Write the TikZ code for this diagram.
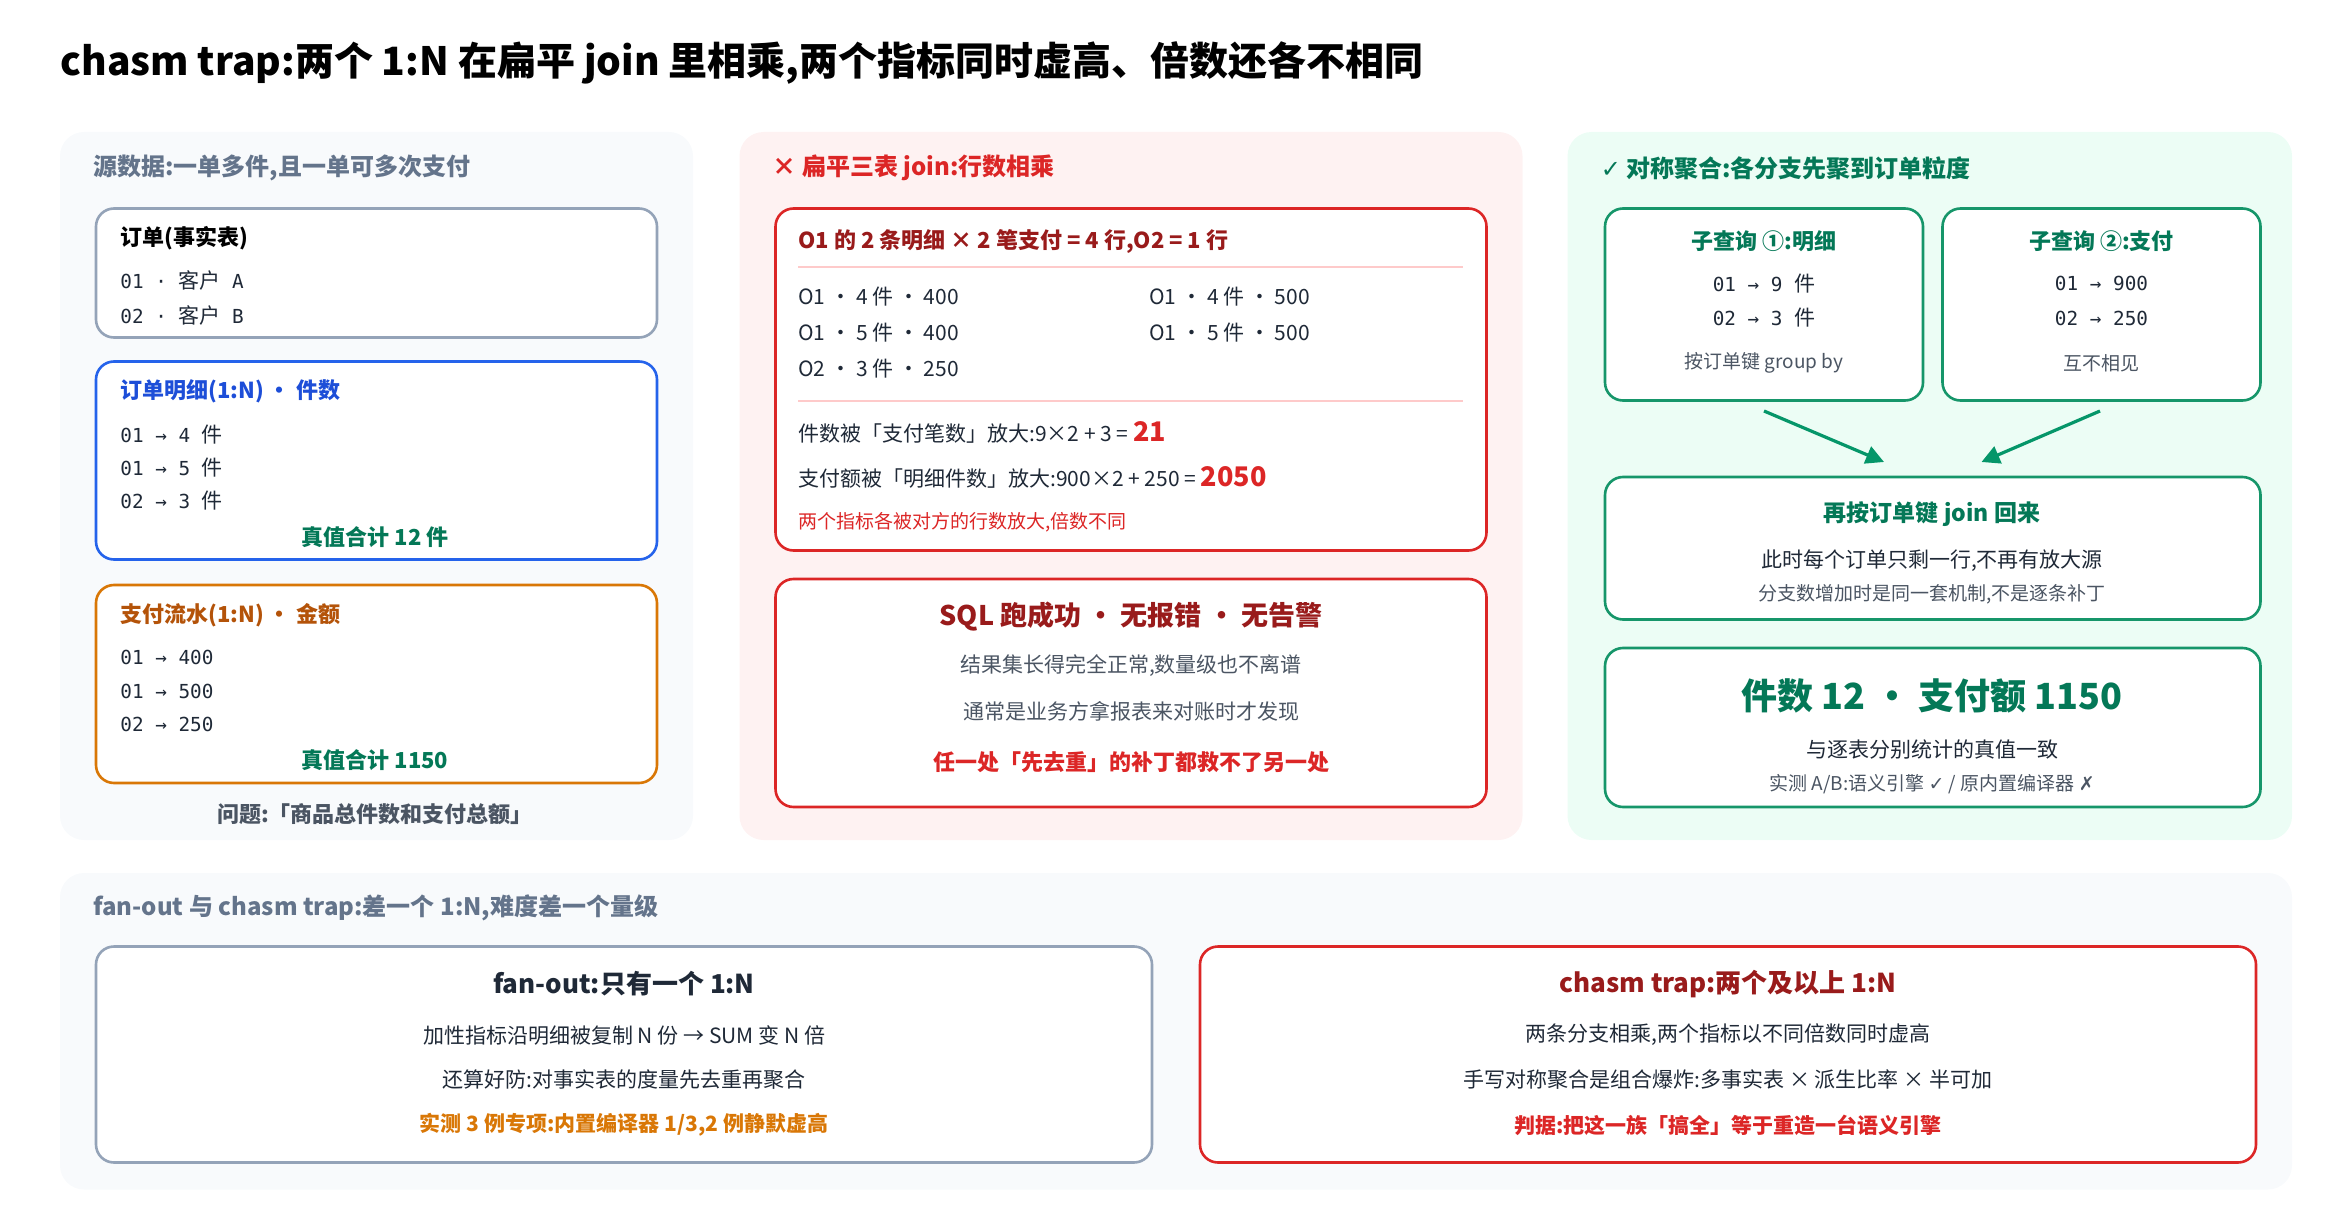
\documentclass[tikz,border=0pt]{standalone}
\usepackage{fontspec}
\setmainfont{Noto Sans CJK SC}
\newfontfamily\symf{DejaVu Sans}
\newfontfamily\mono{DejaVu Sans Mono}[Scale=0.92]
\usetikzlibrary{positioning,arrows.meta}
\definecolor{slate}{HTML}{64748B}
\definecolor{bordgray}{HTML}{94A3B8}
\definecolor{ink}{HTML}{1F2937}
\definecolor{txtgray}{HTML}{4B5563}
\definecolor{blueB}{HTML}{2563EB}
\definecolor{blueT}{HTML}{1D4ED8}
\definecolor{orangeB}{HTML}{D97706}
\definecolor{orangeT}{HTML}{B45309}
\definecolor{redB}{HTML}{DC2626}
\definecolor{redD}{HTML}{991B1B}
\definecolor{pinkL}{HTML}{FECACA}
\definecolor{greenB}{HTML}{16966A}
\definecolor{greenT}{HTML}{047857}
\definecolor{greenA}{HTML}{059669}
\definecolor{bgGray}{HTML}{F8FAFC}
\definecolor{bgRed}{HTML}{FEF2F2}
\definecolor{bgGreen}{HTML}{ECFDF5}
\begin{document}
\begin{tikzpicture}[
  x=0.75pt, y=-0.75pt,
  > = {Triangle[length=9pt,width=9pt]},
  panel/.style = {rounded corners=12pt, draw=none},
  card/.style = {rounded corners=9pt, line width=1.3pt, fill=white},
  txt/.style = {inner sep=0pt, font=\fontsize{10.5}{12}\selectfont, text=ink},
  head/.style = {inner sep=0pt, anchor=west, font=\fontsize{12}{14}\selectfont\bfseries},
  ttl/.style = {inner sep=0pt, font=\fontsize{11}{13}\selectfont\bfseries},
  lft/.style = {txt, anchor=west},
  flow/.style = {->, line width=1.6pt, draw=greenA, fill=greenA}
  ]
  \useasboundingbox (0,0) rectangle (1560,820);
  \node[inner sep=0pt, anchor=west, font=\fontsize{19.5}{22}\selectfont\bfseries] (title) at (40,42)
    {chasm trap:两个 1:N 在扁平 join 里相乘,两个指标同时虚高、倍数还各不相同};

  % panels
  \fill[panel, bgGray] (40,88) rectangle (462,560);
  \fill[panel, bgRed] (493,88) rectangle (1015,560);
  \fill[panel, bgGreen] (1045,88) rectangle (1528,560);
  \fill[panel, bgGray] (40,582) rectangle (1528,793);

  % source data
  \node[head, text=slate] (srcH) at (62,112) {源数据:一单多件,且一单可多次支付};
  \draw[card, draw=bordgray] (64,139) rectangle (438,225);
  \node[ttl, anchor=west] (ordT) at (80,159) {订单(事实表)};
  \node[lft] (ord1) at (80,187) {{\mono 01 · }客户{\mono{} A}};
  \node[lft] (ord2) at (80,210) {{\mono 02 · }客户{\mono{} B}};

  \draw[card, draw=blueB] (64,241) rectangle (438,373);
  \node[ttl, anchor=west, text=blueT] (detT) at (80,261) {订单明细(1:N) · 件数};
  \node[lft] (det1) at (80,290) {{\mono 01 → 4 }件};
  \node[lft] (det2) at (80,312) {{\mono 01 → 5 }件};
  \node[lft] (det3) at (80,334) {{\mono 02 → 3 }件};
  \node[ttl, text=greenT] (detS) at (250,358) {真值合计 12 件};

  \draw[card, draw=orangeB] (64,390) rectangle (438,522);
  \node[ttl, anchor=west, text=orangeT] (payT) at (80,410) {支付流水(1:N) · 金额};
  \node[lft] (pay1) at (80,438) {\mono 01 → 400};
  \node[lft] (pay2) at (80,461) {\mono 01 → 500};
  \node[lft] (pay3) at (80,483) {\mono 02 → 250};
  \node[ttl, text=greenT] (payS) at (250,507) {真值合计 1150};
  \node[ttl, text=txtgray] (ask) at (250,543) {问题:「商品总件数和支付总额」};

  % flat join
  \node[head, text=redB] (flatH) at (515,112) {× 扁平三表 join:行数相乘};
  \draw[card, draw=redB] (517,139) rectangle (991,367);
  \node[ttl, anchor=west, text=redD] (rowsT) at (532,161) {O1 的 2 条明细 × 2 笔支付 = 4 行,O2 = 1 行};
  \draw[pinkL, line width=1pt] (532,178) -- (975,178);
  \node[lft] (r1) at (532,198) {O1 · 4 件 · 400};
  \node[lft] (r2) at (532,222) {O1 · 5 件 · 400};
  \node[lft] (r3) at (532,246) {O2 · 3 件 · 250};
  \node[lft] (r4) at (766,198) {O1 · 4 件 · 500};
  \node[lft] (r5) at (766,222) {O1 · 5 件 · 500};
  \draw[pinkL, line width=1pt] (532,267) -- (975,267);
  \node[lft] (m1) at (532,288) {件数被「支付笔数」放大:9×2 + 3 = {\fontsize{13.5}{15}\selectfont\bfseries\color{redB}21}};
  \node[lft] (m2) at (532,318) {支付额被「明细件数」放大:900×2 + 250 = {\fontsize{13.5}{15}\selectfont\bfseries\color{redB}2050}};
  \node[lft, text=redB, font=\fontsize{9.5}{11}\selectfont] (m3) at (532,348) {两个指标各被对方的行数放大,倍数不同};

  \draw[card, draw=redB] (517,386) rectangle (991,538);
  \node[txt, text=redD, font=\fontsize{13.5}{15}\selectfont\bfseries] (sqlT) at (754,411) {SQL 跑成功 · 无报错 · 无告警};
  \node[txt, text=txtgray] (sql1) at (754,444) {结果集长得完全正常,数量级也不离谱};
  \node[txt, text=txtgray] (sql2) at (754,474) {通常是业务方拿报表来对账时才发现};
  \node[ttl, text=redB] (sql3) at (754,508) {任一处「先去重」的补丁都救不了另一处};

  % symmetric aggregation
  \node[head, text=greenT] (symH) at (1067,112) {{\symf ✓} 对称聚合:各分支先聚到订单粒度};
  \draw[card, draw=greenB] (1070,139) rectangle (1282,267);
  \node[ttl, text=greenT] (q1T) at (1176,161) {子查询 ①:明细};
  \node[txt] (q1a) at (1176,189) {{\mono 01 → 9 }件};
  \node[txt] (q1b) at (1176,212) {{\mono 02 → 3 }件};
  \node[txt, text=txtgray, font=\fontsize{9.5}{11}\selectfont] (q1c) at (1176,242) {按订单键 group by};
  \draw[card, draw=greenB] (1295,139) rectangle (1507,267);
  \node[ttl, text=greenT] (q2T) at (1401,161) {子查询 ②:支付};
  \node[txt] (q2a) at (1401,189) {\mono 01 → 900};
  \node[txt] (q2b) at (1401,212) {\mono 02 → 250};
  \node[txt, text=txtgray, font=\fontsize{9.5}{11}\selectfont] (q2c) at (1401,242) {互不相见};

  \coordinate (q1o) at (1176,274);
  \coordinate (q2o) at (1400,274);
  \coordinate (j1) at (1256,308);
  \coordinate (j2) at (1321,308);
  \draw[flow] (q1o) -- (j1);
  \draw[flow] (q2o) -- (j2);

  \draw[card, draw=greenB] (1070,318) rectangle (1507,413);
  \node[txt, text=greenT, font=\fontsize{11.5}{13}\selectfont\bfseries] (joinT) at (1288,343) {再按订单键 join 回来};
  \node[txt] (join1) at (1288,374) {此时每个订单只剩一行,不再有放大源};
  \node[txt, text=txtgray, font=\fontsize{9.5}{11}\selectfont] (join2) at (1288,396) {分支数增加时是同一套机制,不是逐条补丁};

  \draw[card, draw=greenB] (1070,432) rectangle (1507,538);
  \node[txt, text=greenT, font=\fontsize{18}{20}\selectfont\bfseries] (resT) at (1288,464) {件数 12 · 支付额 1150};
  \node[txt] (res1) at (1288,500) {与逐表分别统计的真值一致};
  \node[txt, text=txtgray, font=\fontsize{9.5}{11}\selectfont] (res2) at (1288,523) {实测 A/B:语义引擎 {\symf ✓} / 原内置编译器 {\symf ✗}};

  % comparison
  \node[head, text=slate] (cmpH) at (62,605) {fan-out 与 chasm trap:差一个 1:N,难度差一个量级};
  \draw[card, draw=bordgray] (64,631) rectangle (768,775);
  \node[txt, font=\fontsize{13}{15}\selectfont\bfseries] (fanT) at (416,656) {fan-out:只有一个 1:N};
  \node[txt] (fan1) at (416,690) {加性指标沿明细被复制 N 份 → SUM 变 N 倍};
  \node[txt] (fan2) at (416,720) {还算好防:对事实表的度量先去重再聚合};
  \node[ttl, text=orangeB, font=\fontsize{10.5}{12}\selectfont\bfseries] (fan3) at (416,750) {实测 3 例专项:内置编译器 1/3,2 例静默虚高};
  \draw[card, draw=redB] (800,631) rectangle (1504,775);
  \node[txt, text=redD, font=\fontsize{13}{15}\selectfont\bfseries] (chT) at (1152,656) {chasm trap:两个及以上 1:N};
  \node[txt] (ch1) at (1152,690) {两条分支相乘,两个指标以不同倍数同时虚高};
  \node[txt] (ch2) at (1152,720) {手写对称聚合是组合爆炸:多事实表 × 派生比率 × 半可加};
  \node[ttl, text=redB, font=\fontsize{10.5}{12}\selectfont\bfseries] (ch3) at (1152,750) {判据:把这一族「搞全」等于重造一台语义引擎};
\end{tikzpicture}
\end{document}
